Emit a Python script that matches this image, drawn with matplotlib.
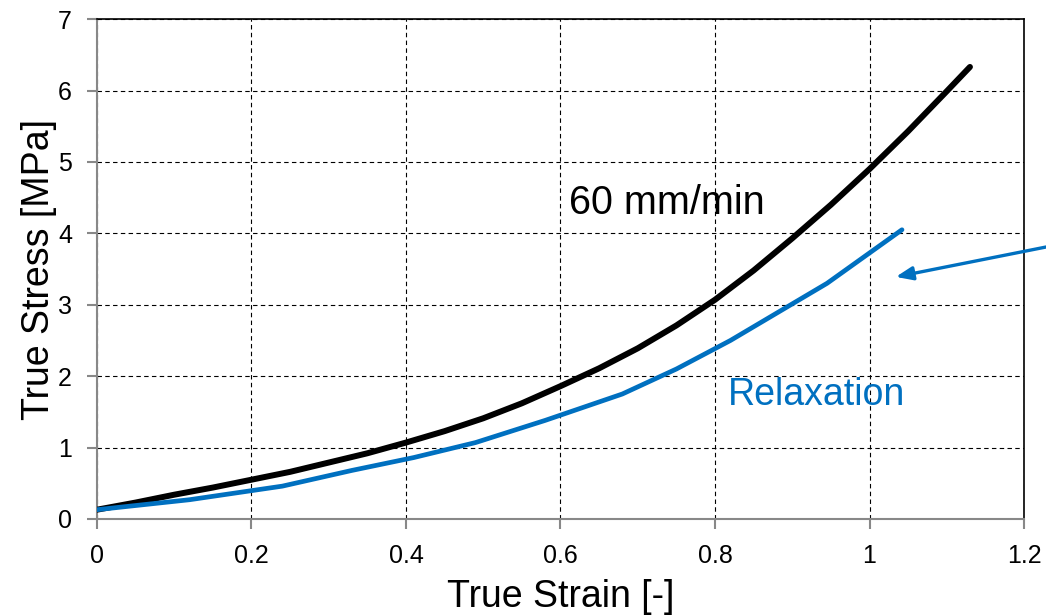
import matplotlib.pyplot as plt

plt.rcParams['font.family'] = ['Liberation Sans', 'DejaVu Sans']

# 60 mm/min test curve
strain_60 = [0.0, 0.05, 0.1, 0.15, 0.2, 0.25, 0.3, 0.35, 0.4, 0.45, 0.5, 0.55,
             0.6, 0.65, 0.7, 0.75, 0.8, 0.85, 0.9, 0.95, 1.0, 1.05, 1.1, 1.13]
stress_60 = [0.13, 0.23, 0.34, 0.44, 0.55, 0.66, 0.79, 0.92, 1.07, 1.23, 1.41, 1.62,
             1.86, 2.11, 2.39, 2.71, 3.07, 3.48, 3.93, 4.40, 4.90, 5.43, 5.99, 6.33]

# relaxation end points
strain_rel = [0.0, 0.12, 0.24, 0.33, 0.41, 0.49, 0.58, 0.68, 0.75, 0.82, 0.945, 1.042]
stress_rel = [0.13, 0.27, 0.46, 0.68, 0.86, 1.07, 1.38, 1.75, 2.10, 2.50, 3.30, 4.05]

xticks = [0, 0.2, 0.4, 0.6, 0.8, 1, 1.2]
xtick_labels = ['0', '0.2', '0.4', '0.6', '0.8', '1', '1.2']
yticks = [0, 1, 2, 3, 4, 5, 6, 7]

blue = '#0070C0'
gray = '#888888'

fig = plt.figure(figsize=(10.46, 6.16), dpi=100)
ax = fig.add_axes([0.0927, 0.1575, 0.8863, 0.8115])

ax.plot(strain_60, stress_60, color='black', lw=4.3, solid_capstyle='round',
        solid_joinstyle='round', zorder=3)
ax.plot(strain_rel, stress_rel, color=blue, lw=3.4, solid_capstyle='round',
        solid_joinstyle='round', zorder=3)

ax.set_xlim(0, 1.2)
ax.set_ylim(0, 7)
ax.set_xticks(xticks)
ax.set_xticklabels(xtick_labels)
ax.set_yticks(yticks)

ax.grid(True, color='black', linestyle=(0, (4, 3)), linewidth=0.8)
ax.set_axisbelow(True)

for s in ['left', 'bottom']:
    ax.spines[s].set_color(gray)
    ax.spines[s].set_linewidth(1.5)
for s in ['top', 'right']:
    ax.spines[s].set_color('black')
    ax.spines[s].set_linewidth(1.2)

ax.tick_params(axis='both', direction='out', length=7, width=1.5, color=gray,
               labelsize=18, pad=11)

ax.set_xlabel('True Strain [-]', fontsize=27, labelpad=8)
ax.set_ylabel('True Stress [MPa]', fontsize=27, labelpad=1)

ax.text(0.738, 4.43, '60 mm/min', fontsize=28.5, ha='center', va='center')
ax.text(0.932, 1.74, 'Relaxation', fontsize=27, ha='center', va='center', color=blue)

ax.annotate('', xy=(1.034, 3.39), xycoords='data',
            xytext=(1.0, 0.599), textcoords='figure fraction',
            arrowprops=dict(arrowstyle='-|>,head_length=1.0,head_width=0.4',
                            color=blue, lw=2.4, shrinkA=0, shrinkB=0),
            annotation_clip=False)

fig.savefig('out.png', dpi=100)
